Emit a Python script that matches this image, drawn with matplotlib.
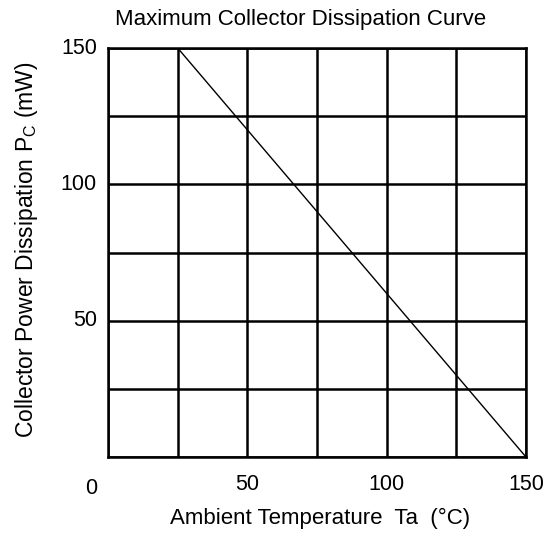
import numpy as np
import matplotlib
matplotlib.use("Agg")
import matplotlib.pyplot as plt

# data
temp_c = [25, 150]          # Ambient temperature Ta (degC)
power_mw = [150, 0]         # Collector power dissipation Pc (mW)
grid_ticks = [0, 25, 50, 75, 100, 125, 150]
label_ticks = [50, 100, 150]

plt.rcParams['font.family'] = ['Liberation Sans', 'DejaVu Sans']

W, H = 549, 535
fig = plt.figure(figsize=(W / 100, H / 100), dpi=100)
ax = fig.add_axes([108 / W, (H - 457) / H, (526 - 108) / W, (457 - 48) / H])

ax.plot(temp_c, power_mw, color='black', lw=1.0)

ax.set_xlim(0, 150)
ax.set_ylim(0, 150)
ax.set_xticks(grid_ticks)
ax.set_yticks(grid_ticks)
ax.grid(True, color='black', lw=1.8)
ax.tick_params(length=0, labelbottom=False, labelleft=False)
for s in ax.spines.values():
  s.set_linewidth(1.8)

# tick labels (only 50, 100, 150; shared 0 at the corner)
for v in label_ticks:
  ax.text(108 / W + (526 - 108) / W * v / 150, 1 - 484 / H, str(v),
          transform=fig.transFigure, ha='center', va='center', fontsize=15.5)
  ax.text(97 / W, (H - 457) / H + (457 - 48) / H * v / 150, str(v),
          transform=fig.transFigure, ha='right', va='center', fontsize=15.5)
fig.text(91 / W, 1 - 488 / H, '0', ha='center', va='center', fontsize=15.5)

fig.text(301 / W, 1 - 19 / H, 'Maximum Collector Dissipation Curve',
         ha='center', va='center', fontsize=16)
fig.text(320 / W, 1 - 518 / H, 'Ambient Temperature  Ta  (\u00b0C)',
         ha='center', va='center', fontsize=16)
fig.text(27 / W, 1 - 250 / H, 'Collector Power Dissipation P$_\\mathregular{C}$ (mW)',
         ha='center', va='center', rotation=90, fontsize=16.5)

fig.savefig('out.png', dpi=100)
